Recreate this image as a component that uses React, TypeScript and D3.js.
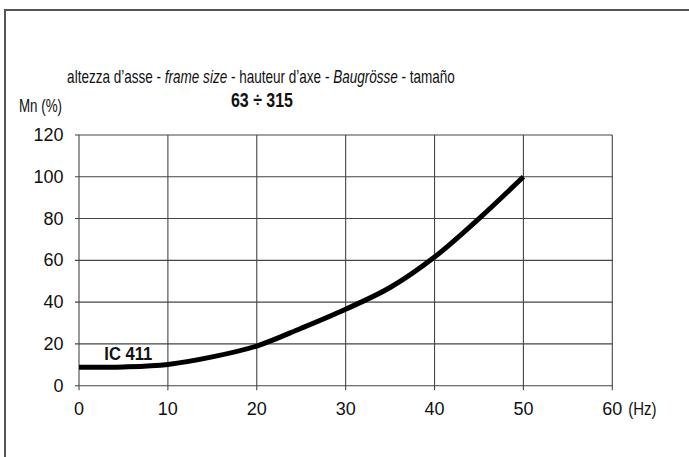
import React, { useLayoutEffect, useRef, useState } from "react";
import * as d3 from "d3";

const xTicks = [0, 10, 20, 30, 40, 50, 60];
const yTicks = [0, 20, 40, 60, 80, 100, 120];
const freq = [0, 5, 10, 15, 20, 25, 30, 35, 40, 45, 50];
const torque = [8.8, 9.0, 10.2, 13.8, 19.0, 27.5, 36.6, 47.0, 61.6, 80.0, 100];
const titleLine = ["altezza d’asse - ", "frame size", " - hauteur d’axe - ", "Baugrösse", " - tamaño"];
const subtitle = "63 ÷ 315";
const yLabel = "Mn (%)";
const xUnit = "(Hz)";
const seriesName = "IC 411";

const W = 689;
const H = 457;
const FONT = "'Liberation Sans', Arial, Helvetica, sans-serif";

export default function App() {
  const titleRef = useRef<SVGTextElement>(null);
  const [sx, setSx] = useState(1);
  useLayoutEffect(() => {
    if (titleRef.current) {
      const w = titleRef.current.getComputedTextLength();
      if (w > 0) setSx(388 / w);
    }
  }, []);

  const x = d3.scaleLinear().domain([0, 60]).range([79, 612.3]);
  const y = d3.scaleLinear().domain([0, 120]).range([385.7, 135]);
  const pts: [number, number][] = freq.map((f, i) => [f, torque[i]]);
  const line = d3
    .line<[number, number]>()
    .x((d) => x(d[0]))
    .y((d) => y(d[1]))
    .curve(d3.curveCatmullRom.alpha(0.5));
  const grid = "#454545";

  return (
    <svg
      width={W}
      height={H}
      style={{ position: "absolute", left: 0, top: 0, background: "#fff" }}
      fontFamily={FONT}
    >
      <rect x={0} y={0} width={W} height={H} fill="#fff" />
      {/* outer frame */}
      <rect x={5} y={10} width={W + 20} height={H + 20} fill="none" stroke="#555" strokeWidth={2} />

      {/* title */}
      <text
        ref={titleRef}
        transform={`translate(261,83) scale(${sx},1)`}
        fontSize={19}
        textAnchor="middle"
        fill="#111"
      >
        {titleLine.map((t, i) => (
          <tspan key={i} fontStyle={i % 2 === 1 ? "italic" : "normal"}>
            {t}
          </tspan>
        ))}
      </text>
      <text x={262} y={107} fontSize={20} fontWeight="bold" textAnchor="middle" fill="#111" textLength={62} lengthAdjust="spacingAndGlyphs">
        {subtitle}
      </text>
      <text x={19} y={112} fontSize={18} fill="#111" textLength={43} lengthAdjust="spacingAndGlyphs">
        {yLabel}
      </text>

      {/* grid */}
      {yTicks.map((t) => (
        <line key={"h" + t} x1={75} x2={x(60)} y1={y(t)} y2={y(t)} stroke={grid} strokeWidth={1.1} />
      ))}
      {xTicks.map((t) => (
        <line key={"v" + t} x1={x(t)} x2={x(t)} y1={y(120)} y2={y(0) + 4.5} stroke={grid} strokeWidth={1.1} />
      ))}

      {/* tick labels */}
      {yTicks.map((t) => (
        <text key={"yl" + t} x={63.5} y={y(t) + 6} fontSize={18} textAnchor="end" fill="#111">
          {t}
        </text>
      ))}
      {xTicks.map((t) => (
        <text key={"xl" + t} x={x(t)} y={415} fontSize={18} textAnchor="middle" fill="#111">
          {t}
        </text>
      ))}
      <text x={628.3} y={415} fontSize={18} fill="#111" textLength={28.3} lengthAdjust="spacingAndGlyphs">
        {xUnit}
      </text>

      {/* curve */}
      <path d={line(pts) || ""} fill="none" stroke="#000" strokeWidth={5} />
      <text x={104.3} y={360} fontSize={18} fontWeight="bold" fill="#111" textLength={48} lengthAdjust="spacingAndGlyphs">
        {seriesName}
      </text>
    </svg>
  );
}
